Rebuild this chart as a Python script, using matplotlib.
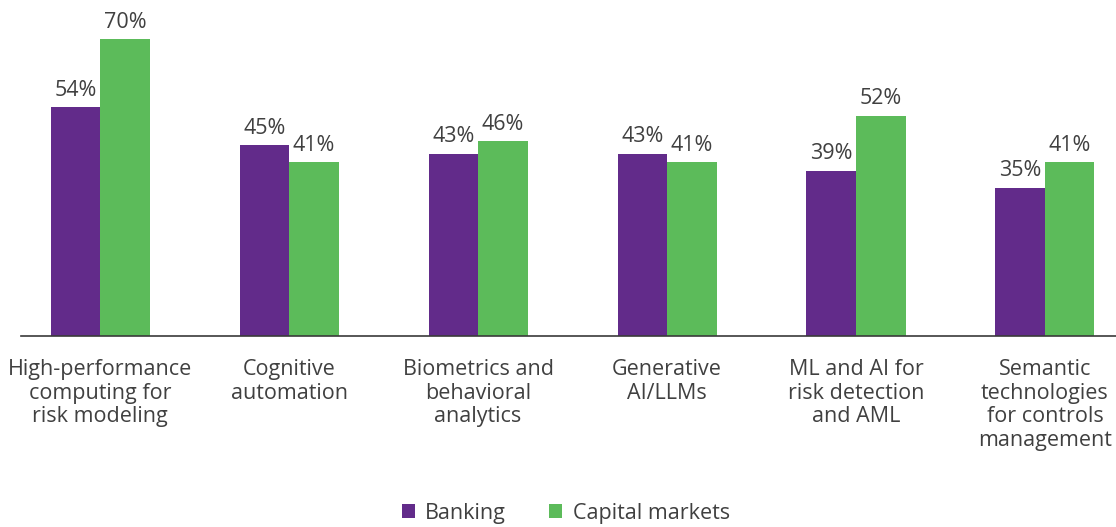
import matplotlib.pyplot as plt
import numpy as np

categories = [
    "High-performance\ncomputing for\nrisk modeling",
    "Cognitive\nautomation",
    "Biometrics and\nbehavioral\nanalytics",
    "Generative\nAI/LLMs",
    "ML and AI for\nrisk detection\nand AML",
    "Semantic\ntechnologies\nfor controls\nmanagement",
]
banking = [54, 45, 43, 43, 39, 35]
capital_markets = [70, 41, 46, 41, 52, 41]

purple = "#622B8A"
green = "#5CBB5A"
text_color = "#404040"

plt.rcParams['font.family'] = ['Open Sans', 'DejaVu Sans']

fig = plt.figure(figsize=(11.16, 5.27), dpi=100)
ax = fig.add_axes([0.019, 0.3615, 0.981, 0.6385])

x = np.arange(len(categories))
w = 0.262
b1 = ax.bar(x - w / 2, banking, width=w, color=purple, label="Banking")
b2 = ax.bar(x + w / 2, capital_markets, width=w, color=green, label="Capital markets")

for bars, vals in [(b1, banking), (b2, capital_markets)]:
    for rect, v in zip(bars, vals):
        ax.text(rect.get_x() + rect.get_width() / 2, v + 1.5, f"{v}%",
                ha="center", va="bottom", fontsize=15.5, color=text_color)

ax.set_xlim(-0.418, 5.376)
ax.set_ylim(0, 79.2)
for s in ["top", "right", "left"]:
    ax.spines[s].set_visible(False)
ax.spines["bottom"].set_color("#3a3a3a")
ax.spines["bottom"].set_linewidth(1.2)
ax.set_yticks([])
ax.set_xticks(x)
ax.set_xticklabels(categories, fontsize=15.5, color=text_color, linespacing=1.18)
ax.tick_params(axis="x", length=0, pad=16)

fig.legend(handles=[b1, b2], loc="center", bbox_to_anchor=(0.507, 0.026),
           ncol=2, frameon=False, fontsize=15.5, handlelength=0.6, handleheight=0.6,
           handletextpad=0.5, columnspacing=2.0, labelcolor=text_color)

fig.savefig("out.png", dpi=100)
